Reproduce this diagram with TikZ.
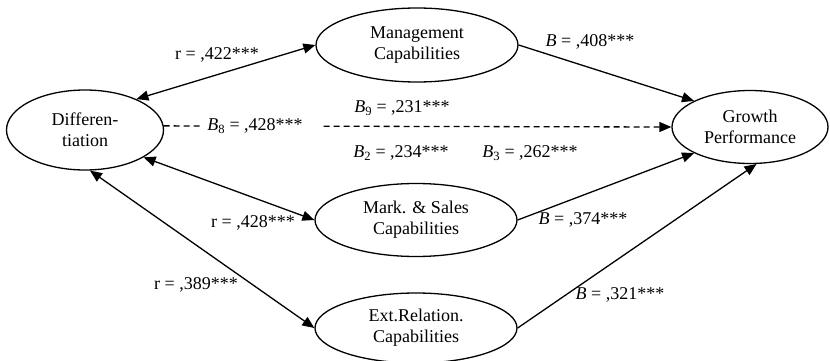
\documentclass[tikz,border=0pt]{standalone}
\usepackage{fontspec}
\setmainfont{Liberation Serif}
\usetikzlibrary{shapes.geometric,arrows.meta}
\tikzset{
  construct/.style={draw, ellipse, line width=1.3pt, inner sep=0pt, align=center,
    minimum width=202pt, minimum height=73pt, font=\fontsize{18}{21}\selectfont},
  link/.style={line width=1.3pt, -{Triangle[length=12pt,width=10pt]}},
  corr/.style={line width=1.3pt, {Triangle[length=12pt,width=10pt]}-{Triangle[length=12pt,width=10pt]}},
  coef/.style={font=\fontsize{18}{21}\selectfont, inner sep=2pt}
}
\newcommand{\Bsub}[1]{\textit{B}\textsubscript{#1}}
\begin{document}
\begin{tikzpicture}[x=1pt,y=-1pt]
\useasboundingbox (0,0) rectangle (830,361);

% constructs
\node[construct, minimum width=157pt, minimum height=80pt] (diff) at (85,130) {Differen-\\tiation};
\node[construct, minimum height=74pt] (mgmt) at (417,45) {Management\\Capabilities};
\node[construct] (mark) at (416,220) {Mark. \& Sales\\Capabilities};
\node[construct, minimum height=70pt] (ext) at (416,328) {Ext.Relation.\\Capabilities};
\node[construct, minimum width=156pt] (growth) at (750,127) {Growth\\Performance};

% correlations
\draw[corr] (diff.31) -- (mgmt.west);
\draw[corr] (diff.-25) -- (mark.west);
\draw[corr] (diff.-83) -- (ext.west);

% direct effects on growth
\draw[link] (mgmt.east) -- (growth.155);
\draw[link] (mark.east) -- (growth.205);
\draw[link] (ext.east) -- (growth.-80);
\draw[link, dashed, dash pattern=on 6pt off 4pt] (diff.3) -- (growth.west)
  node[coef, pos=0.1916, fill=white, inner xsep=5pt, inner ysep=3pt] (b8) {\Bsub{8} = ,428***\hspace*{12pt}};

% coefficients
\node[coef] (r1) at (217,55) {r = ,422***};
\node[coef] (r2) at (253,223) {r = ,428***};
\node[coef] (r3) at (196,285) {r = ,389***};
\node[coef] (bm) at (590,42) {\textit{B} = ,408***};
\node[coef] (bs) at (583,220) {\textit{B} = ,374***};
\node[coef] (be) at (620,295) {\textit{B} = ,321***};
\node[coef] (b9) at (402,108) {\Bsub{9} = ,231***};
\node[coef] (b2) at (401,153) {\Bsub{2} = ,234***};
\node[coef] (b3) at (530,153) {\Bsub{3} = ,262***};
\end{tikzpicture}
\end{document}
